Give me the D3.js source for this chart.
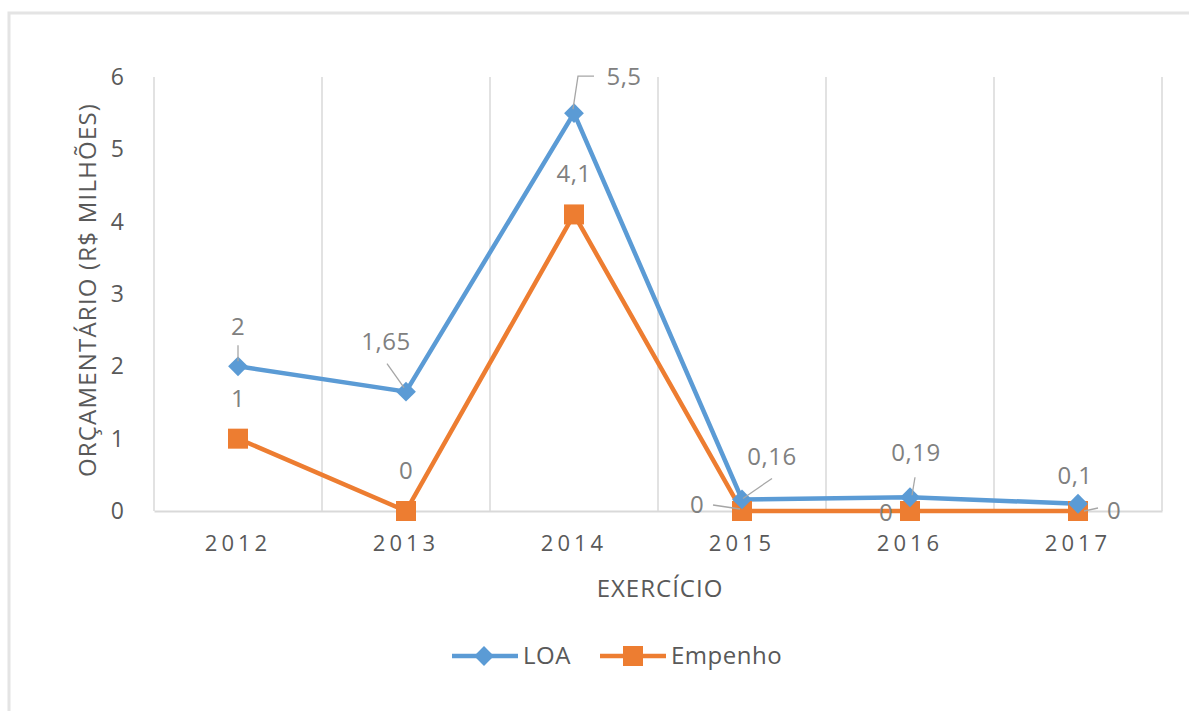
<!DOCTYPE html>
<html>
<head>
<meta charset="utf-8">
<script src="https://cdn.jsdelivr.net/npm/d3@7"></script>
<style>
  body { margin: 0; background: #fff; }
  svg text { font-family: "Open Sans", Lato, sans-serif; }
</style>
</head>
<body>
<div id="chart"></div>
<script>
// chart values
var years = ["2012", "2013", "2014", "2015", "2016", "2017"];
var loa = [2, 1.65, 5.5, 0.16, 0.19, 0.1];
var empenho = [1, 0, 4.1, 0, 0, 0];
var yTicks = [0, 1, 2, 3, 4, 5, 6];

// label placement (offset from the point), leader lines as offsets too
var loaLabelPos = [[0, -40], [-20, -50], [50, -37], [30, -43], [6, -45], [-3, -28]];
var loaLeaders = [
  [[0, -21], [0, -5]],
  [[-19, -28], [-2, -4]],
  [[-1, -4], [4, -37], [20, -37]],
  [[30, -21], [1, -1]],
  [[5, -20], [2, -2]],
  null
];
var empLabelPos = [[0, -40], [0, -40], [0, -41], [-45, -6], [-24, 2], [36, 0]];
var empLeaders = [null, null, null, [[-29, -6], [-2, -2]], null, [[6, 0], [20, -3]]];

var W = 1189, H = 711;
var margin = { left: 154, right: 1162, top: 77, bottom: 511 };

var svg = d3.select("#chart").append("svg")
  .attr("width", W).attr("height", H);

// outer frame
svg.append("rect")
  .attr("x", 9).attr("y", 13)
  .attr("width", W + 10).attr("height", H + 10)
  .attr("fill", "none")
  .attr("stroke", "#e4e4e4").attr("stroke-width", 3);

var x = d3.scaleBand().domain(years).range([margin.left, margin.right]);
var y = d3.scaleLinear().domain([0, 6]).range([margin.bottom, margin.top]);
var cx = function(i) { return x(years[i]) + x.bandwidth() / 2; };

// vertical gridlines at category boundaries
var bounds = years.map(function(d) { return x(d); }).concat([margin.right]);
svg.append("g").selectAll("line")
  .data(bounds)
  .join("line")
  .attr("x1", function(d) { return d; }).attr("x2", function(d) { return d; })
  .attr("y1", margin.top).attr("y2", margin.bottom)
  .attr("stroke", "#d9d9d9").attr("stroke-width", 1.5);

// x axis
var xAxis = svg.append("g")
  .attr("transform", "translate(0," + margin.bottom + ")")
  .call(d3.axisBottom(x).tickSize(0).tickPadding(24));
xAxis.select(".domain").attr("stroke", "#d9d9d9").attr("stroke-width", 2);
xAxis.selectAll("text")
  .attr("fill", "#595959").style("font-size", "22px")
  .style("letter-spacing", "4px");

// y axis
var yAxis = svg.append("g")
  .attr("transform", "translate(" + (margin.left - 27) + ",0)")
  .call(d3.axisLeft(y).tickValues(yTicks).tickSize(0).tickFormat(d3.format("d")));
yAxis.select(".domain").remove();
yAxis.selectAll("text").attr("fill", "#595959").style("font-size", "23px");

// axis titles
svg.append("text")
  .attr("x", 660).attr("y", 597)
  .attr("text-anchor", "middle")
  .attr("fill", "#595959").style("font-size", "24px")
  .style("letter-spacing", "1px")
  .text("EXERCÍCIO");

svg.append("text")
  .attr("transform", "translate(96,290) rotate(-90)")
  .attr("text-anchor", "middle")
  .attr("fill", "#595959").style("font-size", "24px")
  .style("letter-spacing", "1.2px")
  .text("ORÇAMENTÁRIO (R$ MILHÕES)");

var blue = "#5B9BD5", orange = "#ED7D31";
var line = d3.line()
  .x(function(d, i) { return cx(i); })
  .y(function(d) { return y(d); });

svg.append("path").datum(empenho)
  .attr("d", line).attr("fill", "none")
  .attr("stroke", orange).attr("stroke-width", 4.5);
svg.append("path").datum(loa)
  .attr("d", line).attr("fill", "none")
  .attr("stroke", blue).attr("stroke-width", 4.5);

var diamond = d3.symbol().type(d3.symbolDiamond2).size(250);

svg.append("g").selectAll("rect")
  .data(empenho)
  .join("rect")
  .attr("x", function(d, i) { return cx(i) - 10; })
  .attr("y", function(d) { return y(d) - 10; })
  .attr("width", 20).attr("height", 20)
  .attr("fill", orange);

svg.append("g").selectAll("path")
  .data(loa)
  .join("path")
  .attr("d", diamond)
  .attr("transform", function(d, i) { return "translate(" + cx(i) + "," + y(d) + ")"; })
  .attr("fill", blue);

// data labels
var fmt = function(v) { return String(v).replace(".", ","); };
var leaderPath = d3.line();

function addLabels(values, pos, leaders) {
  var g = svg.append("g");
  values.forEach(function(v, i) {
    var px = cx(i), py = y(v);
    if (leaders[i]) {
      g.append("path")
        .attr("d", leaderPath(leaders[i].map(function(p) { return [px + p[0], py + p[1]]; })))
        .attr("fill", "none").attr("stroke", "#a6a6a6").attr("stroke-width", 1.3);
    }
    g.append("text")
      .attr("x", px + pos[i][0]).attr("y", py + pos[i][1])
      .attr("dy", "0.35em")
      .attr("text-anchor", "middle")
      .attr("fill", "#808080").style("font-size", "24px")
      .style("letter-spacing", "0.5px")
      .text(fmt(v));
  });
}
addLabels(loa, loaLabelPos, loaLeaders);
addLabels(empenho, empLabelPos, empLeaders);

// legend
var legend = svg.append("g").attr("transform", "translate(0,656)");
var items = [
  { name: "LOA", color: blue, x: 452 },
  { name: "Empenho", color: orange, x: 600 }
];
items.forEach(function(it) {
  legend.append("line")
    .attr("x1", it.x).attr("x2", it.x + 66)
    .attr("stroke", it.color).attr("stroke-width", 4.5);
  if (it.name == "LOA") {
    legend.append("path").attr("d", diamond)
      .attr("transform", "translate(" + (it.x + 32) + ",0)")
      .attr("fill", it.color);
  } else {
    legend.append("rect")
      .attr("x", it.x + 23).attr("y", -10)
      .attr("width", 20).attr("height", 20)
      .attr("fill", it.color);
  }
  legend.append("text")
    .attr("x", it.x + 71).attr("dy", "0.35em")
    .attr("fill", "#595959").style("font-size", "24px")
    .style("letter-spacing", "0.5px")
    .text(it.name);
});
</script>
</body>
</html>
